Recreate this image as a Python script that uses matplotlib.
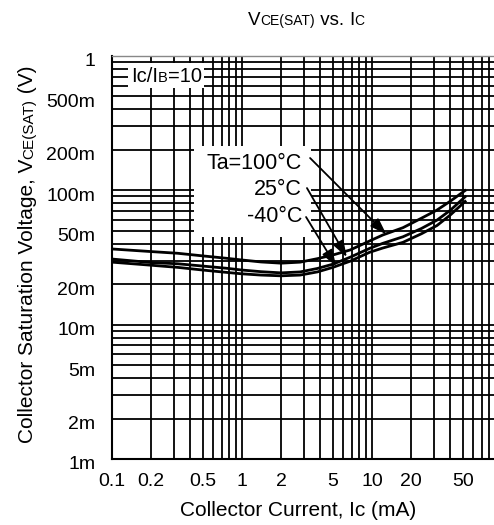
import numpy as np
import matplotlib
matplotlib.use('Agg')
import matplotlib.pyplot as plt
from matplotlib.ticker import FixedLocator, LogLocator, NullFormatter, FixedFormatter
from matplotlib.patches import Rectangle
import matplotlib.transforms as mtransforms

FONT = 'Liberation Sans'
plt.rcParams['font.family'] = [FONT, 'DejaVu Sans']

# ---- data (collector current in mA, VCE(sat) in V) ----
current_mA = [0.1, 0.2, 0.32, 0.5, 0.76, 1.0, 1.4, 2.0, 2.8, 3.8, 5.0, 6.8, 9.6, 12.1, 17.3, 24, 31.6, 40, 53]
vce_100 = [0.0366, 0.0350, 0.0340, 0.0325, 0.0312, 0.0303, 0.0293, 0.0287, 0.0292, 0.0310, 0.0330,
           0.0360, 0.0420, 0.0465, 0.0527, 0.0620, 0.0713, 0.0830, 0.101]
vce_25 = [0.0308, 0.0290, 0.0284, 0.0273, 0.0263, 0.0255, 0.0248, 0.0243, 0.0247, 0.0262, 0.0282,
          0.0318, 0.0370, 0.0403, 0.0451, 0.0520, 0.0600, 0.0710, 0.091]
vce_m40 = [0.0292, 0.0277, 0.0267, 0.0255, 0.0245, 0.0239, 0.0234, 0.0231, 0.0234, 0.0247, 0.0267,
           0.0297, 0.0346, 0.0372, 0.0410, 0.0475, 0.0547, 0.0655, 0.0840]
series_labels = ['Ta=100°C', '25°C', '-40°C']

x_ticks = [0.1, 0.2, 0.5, 1, 2, 5, 10, 20, 50]
x_tick_labels = ['0.1', '0.2', '0.5', '1', '2', '5', '10', '20', '50']
y_ticks = [1e-3, 2e-3, 5e-3, 1e-2, 2e-2, 5e-2, 0.1, 0.2, 0.5, 1]
y_tick_labels = ['1m', '2m', '5m', '10m', '20m', '50m', '100m', '200m', '500m', '1']

W, H = 494, 525
fig = plt.figure(figsize=(W / 100, H / 100), dpi=100)


def px_box(l, t, r, b):
    return [l / W, 1 - b / H, (r - l) / W, (b - t) / H]


ax = fig.add_axes(px_box(112, 56, 502, 459))
ax.set_xscale('log')
ax.set_yscale('log')
ax.set_xlim(0.1, 100)
ax.set_ylim(1e-3, 1)

ax.xaxis.set_major_locator(FixedLocator(x_ticks))
ax.xaxis.set_major_formatter(FixedFormatter(x_tick_labels))
ax.xaxis.set_minor_locator(LogLocator(base=10, subs=np.arange(2, 10), numticks=60))
ax.xaxis.set_minor_formatter(NullFormatter())
ax.yaxis.set_major_locator(FixedLocator(y_ticks))
ax.yaxis.set_major_formatter(FixedFormatter(y_tick_labels))
ax.yaxis.set_minor_locator(LogLocator(base=10, subs=np.arange(2, 10), numticks=60))
ax.yaxis.set_minor_formatter(NullFormatter())

ax.tick_params(which='both', length=0)
ax.tick_params(axis='x', pad=10, labelsize=14)
ax.tick_params(axis='y', pad=12, labelsize=14)
ax.grid(which='both', color='black', lw=1.3)
ax.set_axisbelow(True)

for side in ['left', 'bottom']:
    ax.spines[side].set_color('black')
    ax.spines[side].set_linewidth(1.5)
ax.spines['top'].set_color('#888888')
ax.spines['top'].set_linewidth(1.0)
ax.spines['right'].set_visible(False)

offset = mtransforms.ScaledTranslation(0, -0.04, fig.dpi_scale_trans)
for lab in ax.get_yticklabels():
    lab.set_transform(lab.get_transform() + offset)

# curves
for v in (vce_100, vce_25, vce_m40):
    ax.plot(current_mA, v, color='black', lw=2.0, zorder=3,
            solid_joinstyle='round', solid_capstyle='butt')

# white label boxes covering the grid
ax.add_patch(Rectangle((0.427, 0.0449), 3.39 - 0.427, 0.2138 - 0.0449,
                       facecolor='white', edgecolor='none', zorder=1.5))
ax.add_patch(Rectangle((0.1328, 0.578), 0.51 - 0.1328, 0.887 - 0.578,
                       facecolor='white', edgecolor='none', zorder=1.5))

# temperature labels and arrows
text_y = [0.144, 0.0923, 0.0581]
arrow_start = [(3.34, 0.174), (3.16, 0.104), (3.11, 0.0633)]
arrow_tip = [(12.9, 0.0470), (6.4, 0.0318), (5.3, 0.0272)]
for lab, ty, st, tp in zip(series_labels, text_y, arrow_start, arrow_tip):
    ax.text(2.89, ty, lab, ha='right', va='baseline', fontsize=15.5, zorder=4)
    ax.annotate('', xy=tp, xytext=st,
                arrowprops=dict(arrowstyle='-|>,head_length=0.5,head_width=0.17',
                                mutation_scale=20, lw=1.3, color='black',
                                shrinkA=0, shrinkB=0), zorder=4)


# ---- rich text helper (smaller letters on the same baseline) ----
renderer = fig.canvas.get_renderer()


def text_width(s, size):
    t1 = fig.text(0, 0, '|' + s + '|', fontsize=size)
    t2 = fig.text(0, 0, '||', fontsize=size)
    w = t1.get_window_extent(renderer).width - t2.get_window_extent(renderer).width
    t1.remove()
    t2.remove()
    return w


def rich_text(x_px, y_px, parts, rotation=0, align='center'):
    widths = [text_width(s, size) for s, size in parts]
    total = sum(widths)
    ang = np.deg2rad(rotation)
    dx, dy = np.cos(ang), np.sin(ang)
    if align == 'center':
        start = -total / 2
    elif align == 'right':
        start = -total
    else:
        start = 0
    x0 = x_px
    y0 = H - y_px
    pos = start
    for (s, size), w in zip(parts, widths):
        px = x0 + pos * dx
        py = y0 + pos * dy
        fig.text(px / W, py / H, s, fontsize=size, rotation=rotation,
                 rotation_mode='anchor', ha='left', va='baseline')
        pos += w


# title
rich_text(306, 25, [('V', 13.5), ('CE(SAT)', 10), (' vs. ', 13.5), ('I', 13.5), ('C', 10)])
# y label
rich_text(33, 254, [('Collector Saturation Voltage, V', 15), ('CE(SAT)', 11), (' (V)', 15)],
          rotation=90)
# x label
fig.text(298 / W, 1 - 516 / H, 'Collector Current, Ic (mA)', fontsize=15,
         ha='center', va='baseline')
# Ic/IB label
rich_text(131, 82, [('Ic/I', 14.5), ('B', 10.5), ('=10', 14.5)], align='left')

fig.savefig('out.png', dpi=100)
